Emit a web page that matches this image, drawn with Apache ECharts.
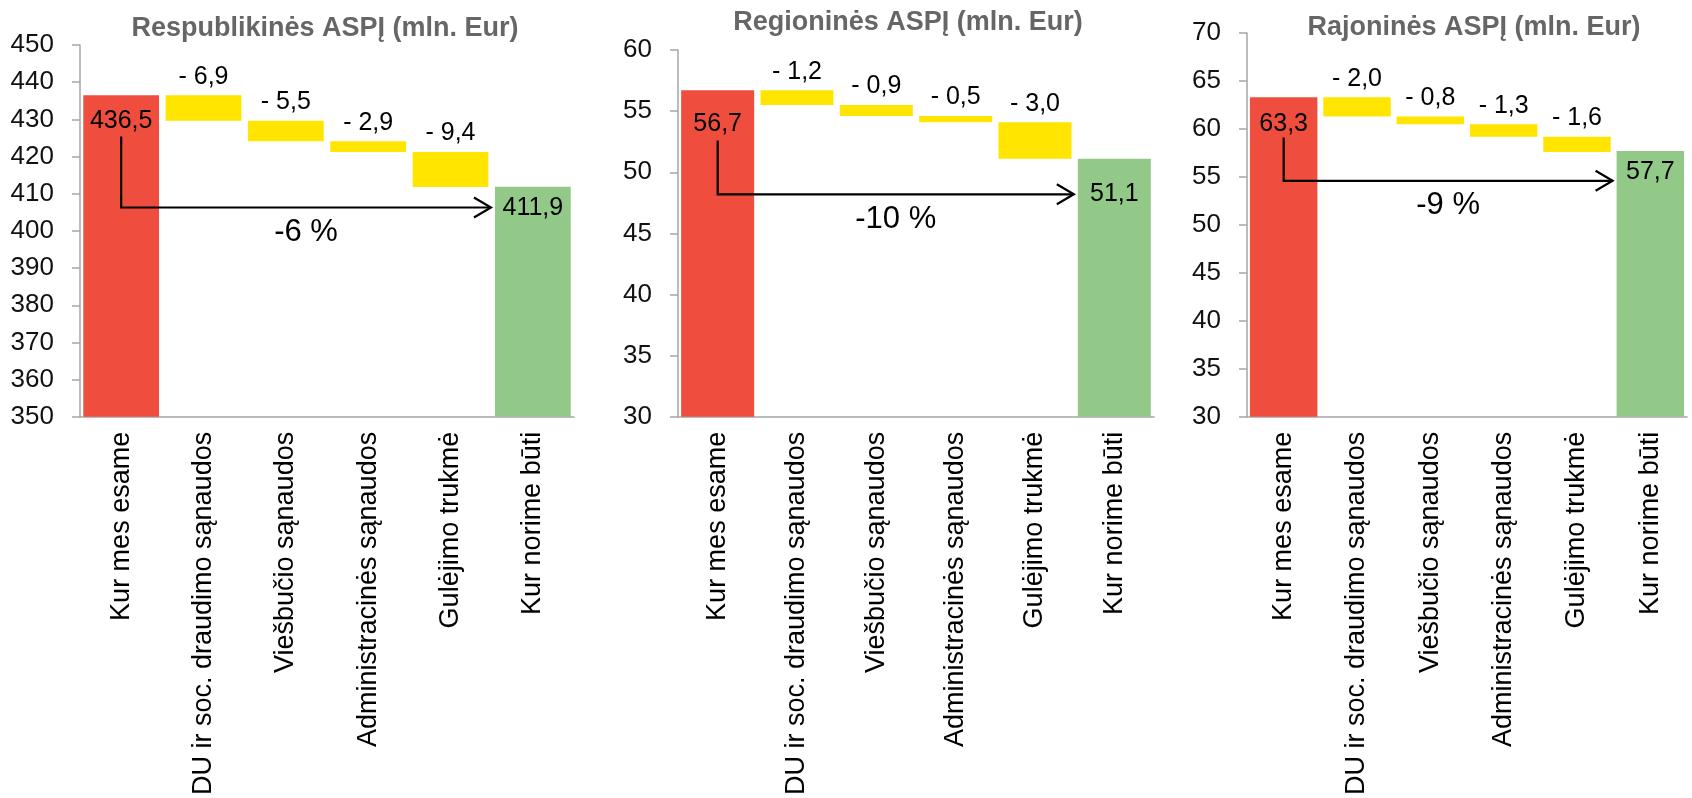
<!DOCTYPE html>
<html><head><meta charset="utf-8">
<script src="https://cdn.jsdelivr.net/npm/echarts@6/dist/echarts.min.js"></script>
<style>html,body{margin:0;padding:0;background:#fff}#c{width:1692px;height:798px}</style>
</head><body><div id="c"></div>
<script>
// ---- data ----
const categories = ['Kur mes esame', 'DU ir soc. draudimo sąnaudos', 'Viešbučio sąnaudos', 'Administracinės sąnaudos', 'Gulėjimo trukmė', 'Kur norime būti'];
const titles = ['Respublikinės ASPĮ (mln. Eur)', 'Regioninės ASPĮ (mln. Eur)', 'Rajoninės ASPĮ (mln. Eur)'];
const startValues = [436.5, 56.7, 63.3];
const endValues = [411.9, 51.1, 57.7];
const changesRespublikines = [-6.9, -5.5, -2.9, -9.4];
const changesRegionines = [-1.2, -0.9, -0.5, -3.0];
const changesRajonines = [-2.0, -0.8, -1.3, -1.6];
const percentLabels = ['-6 %', '-10 %', '-9 %'];
const yMin = [350, 30, 30];
const yMax = [450, 60, 70];
const yInterval = [10, 5, 5];
const arrowTopValues = [425.4, 52.6, 59.1];
const arrowLevelValues = [406.3, 48.2, 54.6];

// ---- layout / style ----
const changes = [changesRespublikines, changesRegionines, changesRajonines];
const grids = [
  {left: 80, top: 45, width: 494, height: 378},
  {left: 678, top: 50, width: 476, height: 372},
  {left: 1247, top: 33, width: 440, height: 392}
];
const titlePos = [[320, 10], [903, 4], [1469, 9]];
const startLabelDist = [13, 21, 14];
const endLabelDist = [9, 23, 9];
const FONT = '"Liberation Sans", Arial, sans-serif';
const RED = '#EF4D3E', YELLOW = '#FFE500', GREEN = '#92C888', AXIS = '#A6A6A6';
const fmt = v => Math.abs(v).toFixed(1).replace('.', ',');

const option = {
  animation: false,
  backgroundColor: '#fff',
  textStyle: {fontFamily: FONT},
  title: titles.map((t, i) => ({
    text: t, left: titlePos[i][0], top: titlePos[i][1], textAlign: 'center',
    textStyle: {fontFamily: FONT, fontSize: 27, fontWeight: 'bold', color: '#666666'}
  })),
  grid: grids.map(g => Object.assign({containLabel: false}, g)),
  xAxis: grids.map((g, i) => ({
    type: 'category', gridIndex: i, data: categories,
    axisLine: {lineStyle: {color: AXIS, width: 1.5}},
    axisTick: {show: false},
    axisLabel: {rotate: 90, interval: 0, margin: 15, fontSize: 27, color: '#000', fontFamily: FONT}
  })),
  yAxis: grids.map((g, i) => ({
    type: 'value', gridIndex: i, min: yMin[i], max: yMax[i], interval: yInterval[i],
    axisLine: {show: true, lineStyle: {color: AXIS, width: 1.5}},
    axisTick: {show: true, length: 8, lineStyle: {color: AXIS, width: 1.5}},
    splitLine: {show: false},
    axisLabel: {margin: 26, fontSize: 26, color: '#111', fontFamily: FONT}
  })),
  series: []
};

changes.forEach((ch, i) => {
  const base = ['-'], delta = ['-'];
  let run = startValues[i];
  ch.forEach(c => { run = +(run + c).toFixed(4); base.push(run); delta.push(Math.abs(c)); });
  base.push('-'); delta.push('-');
  const totals = [
    {value: startValues[i], itemStyle: {color: RED}, label: {distance: startLabelDist[i]}},
    '-', '-', '-', '-',
    {value: endValues[i], itemStyle: {color: GREEN}, label: {distance: endLabelDist[i]}}
  ];
  option.series.push({
    type: 'bar', xAxisIndex: i, yAxisIndex: i, stack: 'w' + i, data: base,
    barCategoryGap: '8%', silent: true, itemStyle: {color: 'rgba(0,0,0,0)'}
  });
  option.series.push({
    type: 'bar', xAxisIndex: i, yAxisIndex: i, stack: 'w' + i, data: delta,
    barCategoryGap: '8%', itemStyle: {color: YELLOW},
    label: {show: true, position: 'top', distance: 6, fontSize: 25, color: '#000', fontFamily: FONT,
      formatter: p => '- ' + fmt(p.value)}
  });
  option.series.push({
    type: 'bar', xAxisIndex: i, yAxisIndex: i, stack: 'w' + i, data: totals,
    barCategoryGap: '8%',
    label: {show: true, position: 'insideTop', fontSize: 25, color: '#000', fontFamily: FONT,
      formatter: p => fmt(p.value)}
  });
});

const chart = echarts.init(document.getElementById('c'), null, {renderer: 'canvas'});
chart.setOption(option);

// connector arrows drawn through the chart's own coordinate conversion
const graphics = [];
for (let i = 0; i < 3; i++) {
  const pTop = chart.convertToPixel({gridIndex: i}, [0, arrowTopValues[i]]);
  const pLev0 = chart.convertToPixel({gridIndex: i}, [0, arrowLevelValues[i]]);
  const pLev5 = chart.convertToPixel({gridIndex: i}, [5, arrowLevelValues[i]]);
  const band = (pLev5[0] - pLev0[0]) / 5;
  const endX = pLev5[0] - band * 0.46 - 4;
  const y = pLev0[1];
  graphics.push({
    type: 'polyline', z: 100,
    shape: {points: [[pTop[0], pTop[1]], [pTop[0], y], [endX, y]]},
    style: {stroke: '#000', lineWidth: 2.2, fill: null}
  });
  graphics.push({
    type: 'polyline', z: 100,
    shape: {points: [[endX - 17, y - 10], [endX, y], [endX - 17, y + 10]]},
    style: {stroke: '#000', lineWidth: 2.2, fill: null}
  });
  graphics.push({
    type: 'text', z: 100, x: (pTop[0] + endX) / 2, y: y + 25,
    style: {text: percentLabels[i], fontSize: 31, fontFamily: FONT, fill: '#000', align: 'center', verticalAlign: 'middle'}
  });
}
chart.setOption({graphic: graphics});
</script>
</body></html>
